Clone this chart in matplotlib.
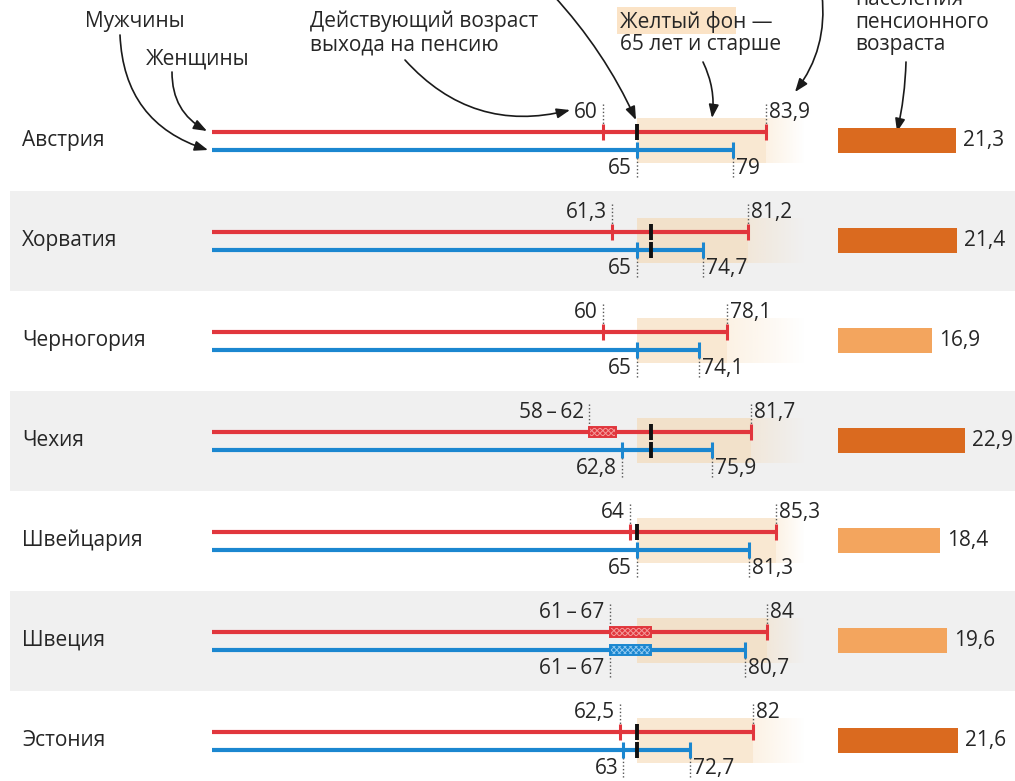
import numpy as np
import matplotlib.pyplot as plt
from matplotlib.patches import Rectangle

plt.rcParams['font.family'] = ['Open Sans', 'DejaVu Sans']
plt.rcParams['hatch.linewidth'] = 0.7

countries = ['Австрия', 'Хорватия', 'Черногория', 'Чехия', 'Швейцария', 'Швеция', 'Эстония']
# retirement age (lower / upper bound when a range applies)
women_retire = [60, 61.3, 60, 58, 64, 61, 62.5]
women_retire_hi = [60, 61.3, 60, 62, 64, 67, 62.5]
men_retire = [65, 65, 65, 62.8, 65, 61, 63]
men_retire_hi = [65, 65, 65, 62.8, 65, 67, 63]
# life expectancy
women_life = [83.9, 81.2, 78.1, 81.7, 85.3, 84, 82]
men_life = [79, 74.7, 74.1, 75.9, 81.3, 80.7, 72.7]
# current retirement age (black marks)
women_now = [65, 67, None, 67, 65, None, 65]
men_now = [None, 67, None, 67, None, None, 65]
# share of population of pension age, %
elderly_share = [21.3, 21.4, 16.9, 22.9, 18.4, 19.6, 21.6]

RED = '#E1363D'
BLUE = '#1B87D0'
TXT = '#262626'
W, H = 1015, 781
PX_PER_YEAR = 6.85
BAR_PX = 5.54


def age_at(px):
    return 65 + (px - 637) / PX_PER_YEAR


def fmt(v):
    return f'{v:g}'.replace('.', ',')


def rng(lo, hi):
    if lo == hi:
        return fmt(lo)
    return f'{fmt(lo)}\u2009–\u2009{fmt(hi)}'


fig = plt.figure(figsize=(W / 100, H / 100), dpi=100)
bg = fig.add_axes([0, 0, 1, 1])
bg.set_xlim(0, W)
bg.set_ylim(H, 0)
bg.axis('off')
ax = fig.add_axes([0, 0, 1, 1])
ax.axis('off')
bx = fig.add_axes([838 / W, 0, (W - 838) / W, 1])
bx.axis('off')

fs = 15
centers = 140.5 + 100 * np.arange(len(countries))

grad = np.zeros((1, 60, 4))
grad[..., :3] = np.array([245, 211, 166]) / 255
grad[..., 3] = np.linspace(0.3, 0, 60)


def tick(x, y, color, ms=11, mew=2.2, z=4):
    ax.plot([x], [y], marker='|', ms=ms, mew=mew, color=color, zorder=z)


def span(lo, hi, y, color, light):
    ax.add_patch(Rectangle((lo, y - 5), hi - lo, 10, fc=color, ec=light,
                           hatch='xxxxxx', lw=0, zorder=3))
    ax.add_patch(Rectangle((lo, y - 5), hi - lo, 10, fill=False, ec=color,
                           lw=1.4, zorder=3))


for i, c in enumerate(centers):
    if i % 2 == 1:
        bg.add_patch(Rectangle((10, c - 50), W - 10, 100, color='#F0F0F0', lw=0, zorder=0))
    yr, yb = c - 9, c + 9
    wl, ml = women_life[i], men_life[i]

    # background for ages 65+
    ax.add_patch(Rectangle((65, c - 22.5), wl - 65, 45, fc='#F5D3A6', alpha=0.5,
                           lw=0, zorder=1))
    ax.imshow(grad, extent=(wl, 89.5, c + 22.5, c - 22.5), aspect='auto',
              zorder=1, interpolation='bilinear')

    bg.text(22, c, countries[i], fontsize=fs, color=TXT, va='center', ha='left')

    ax.plot([3, wl], [yr, yr], color=RED, lw=3, solid_capstyle='butt', zorder=2)
    ax.plot([3, ml], [yb, yb], color=BLUE, lw=3, solid_capstyle='butt', zorder=2)

    # women
    lo, hi = women_retire[i], women_retire_hi[i]
    if hi > lo:
        span(lo, hi, yr, RED, '#F39A9A')
    else:
        tick(lo, yr, RED)
    tick(wl, yr, RED)
    # men
    lo, hi = men_retire[i], men_retire_hi[i]
    if hi > lo:
        span(lo, hi, yb, BLUE, '#8EC8F0')
    else:
        tick(lo, yb, BLUE)
    tick(ml, yb, BLUE)

    if women_now[i] is not None:
        tick(women_now[i], yr, '#111111', ms=11, mew=2.8, z=5)
    if men_now[i] is not None:
        tick(men_now[i], yb, '#111111', ms=11, mew=2.8, z=5)

    # dotted guides and value labels
    dots = dict(colors='#555555', linestyles=(0, (1, 1.6)), lw=1, zorder=2)
    ax.vlines([women_retire[i], wl], yr - 28, yr - 4, **dots)
    ax.vlines([men_retire[i], ml], yb + 4, yb + 28, **dots)
    lab = dict(fontsize=fs, color=TXT, va='center', textcoords='offset pixels')
    ax.annotate(rng(women_retire[i], women_retire_hi[i]), (women_retire[i], c - 28),
                xytext=(-5, 0), ha='right', **lab)
    ax.annotate(fmt(wl), (wl, c - 28), xytext=(3, 0), ha='left', **lab)
    ax.annotate(rng(men_retire[i], men_retire_hi[i]), (men_retire[i], c + 28),
                xytext=(-5, 0), ha='right', **lab)
    ax.annotate(fmt(ml), (ml, c + 28), xytext=(3, 0), ha='left', **lab)

# population share bars
bar_colors = ['#DA6A1F' if v > 20 else '#F3A55E' for v in elderly_share]
bx.barh(centers, elderly_share, height=25, color=bar_colors, zorder=2)
for c, v in zip(centers, elderly_share):
    bx.annotate(fmt(v), (v, c), xytext=(7, 0), textcoords='offset pixels',
                fontsize=fs, color=TXT, va='center', ha='left')

ax.set_xlim(age_at(0), age_at(W))
ax.set_ylim(H, 0)
bx.set_xlim(0, (W - 838) / BAR_PX)
bx.set_ylim(H, 0)

# header notes
hdr = dict(fontsize=fs, color=TXT, va='center', ha='left', linespacing=1.1)
bg.text(85, 21, 'Мужчины', **hdr)
bg.text(146, 59, 'Женщины', **hdr)
bg.text(310, 33, 'Действующий возраст\nвыхода на пенсию', **hdr)
bg.add_patch(Rectangle((617, 7), 119, 27, color='#FBE3C6', lw=0, zorder=0))
bg.text(620, 33, 'Желтый фон —\n65 лет и старше', **hdr)
bg.text(855, 22, 'населения\nпенсионного\nвозраста', fontsize=fs, color=TXT,
        va='center', ha='left', linespacing=1.12)


def arrow(p0, p1, rad):
    bg.annotate('', xy=p1, xytext=p0,
                arrowprops=dict(arrowstyle='-|>,head_length=0.8,head_width=0.3',
                                color='#1a1a1a', lw=1.2, shrinkA=0, shrinkB=0,
                                connectionstyle=f'arc3,rad={rad}'))


arrow((120, 35), (208, 150), 0.35)
arrow((172, 72), (207, 131), 0.3)
arrow((405, 60), (570, 110), 0.3)
arrow((553, -5), (636, 120), -0.08)
arrow((703, 62), (712, 118), -0.15)
arrow((822, -5), (795, 92), -0.2)
arrow((906, 62), (897, 132), -0.05)

fig.savefig('out.png', dpi=100)
